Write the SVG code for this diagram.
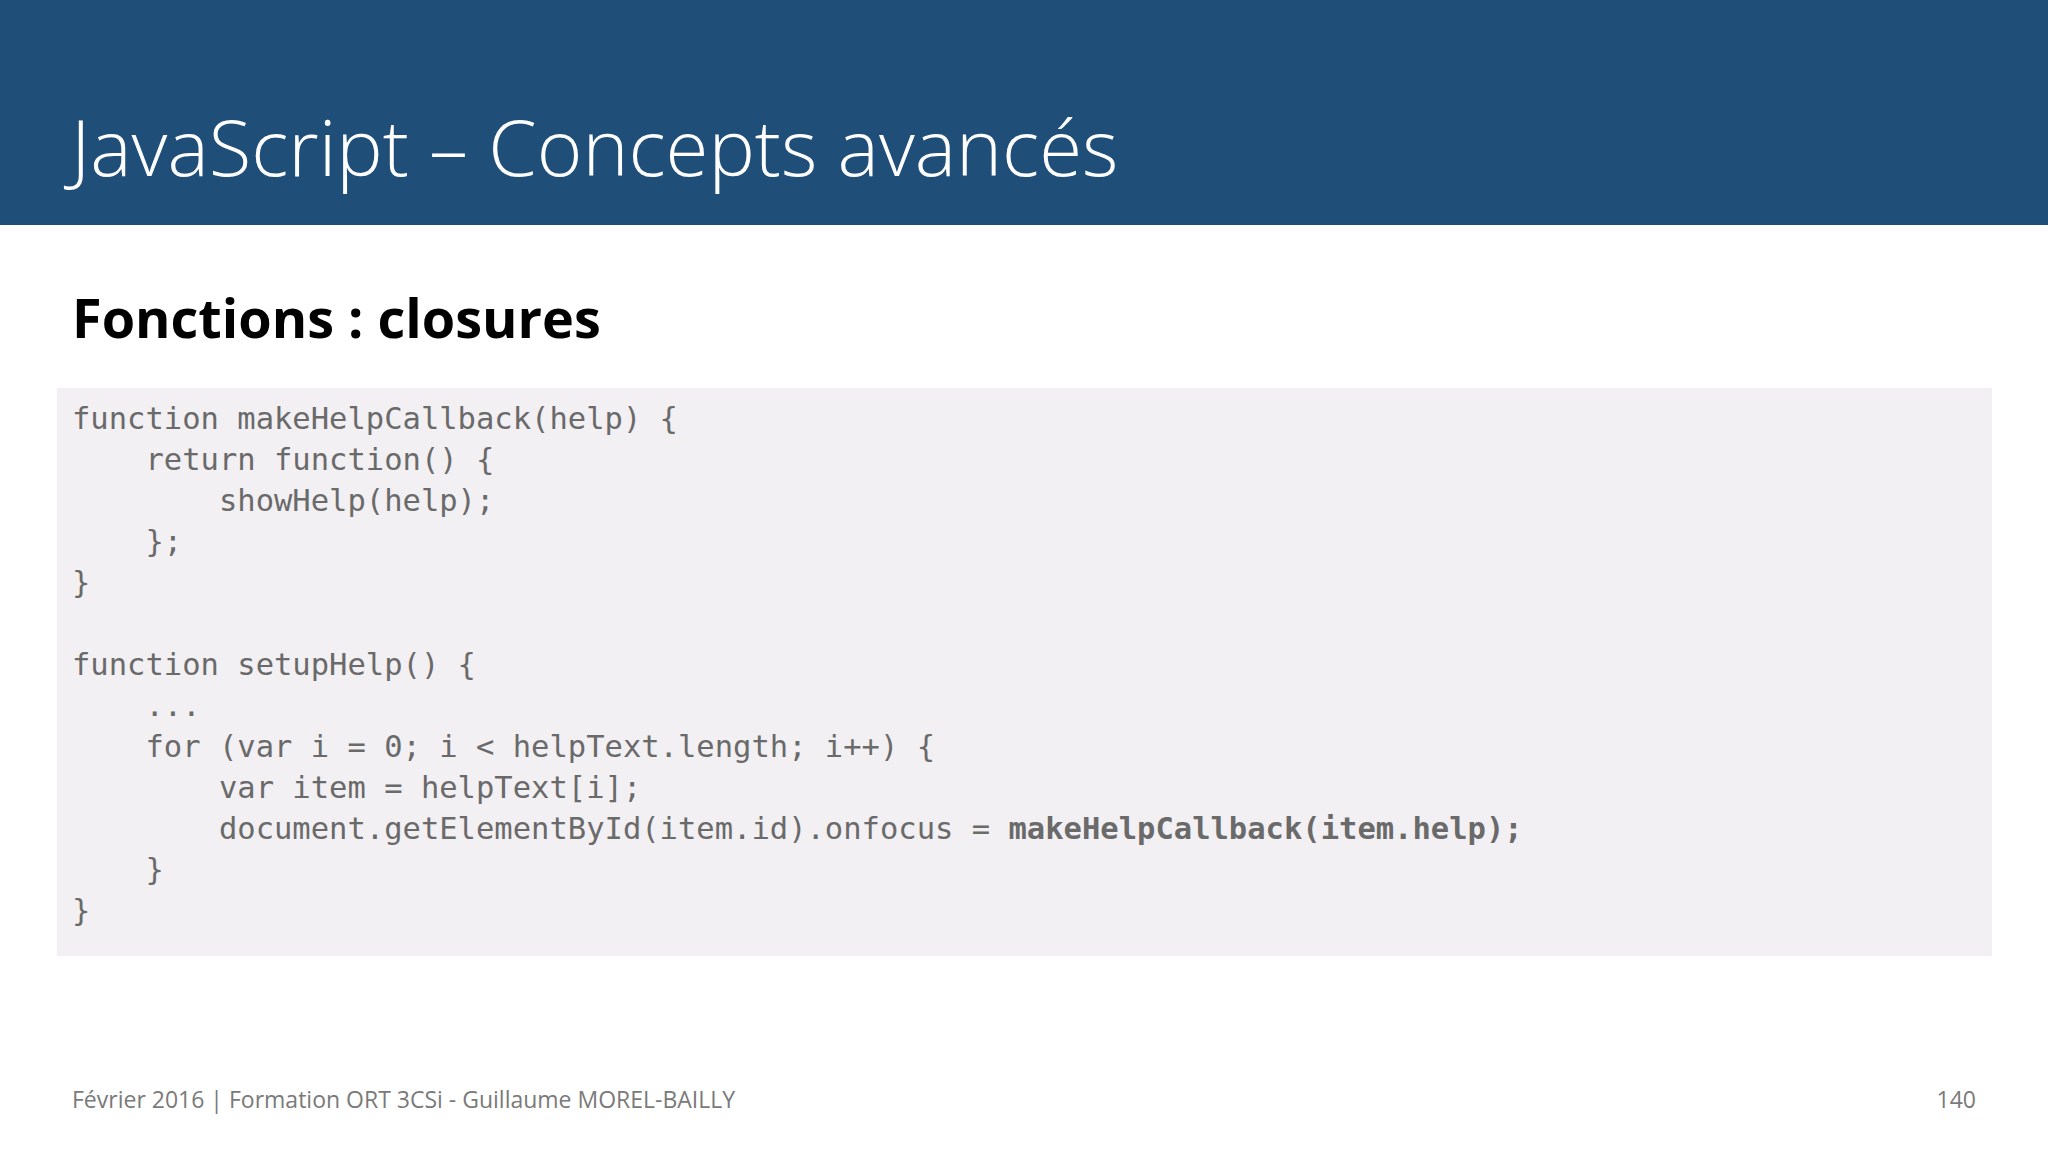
<svg xmlns="http://www.w3.org/2000/svg" width="2048" height="1152" viewBox="0 0 2048 1152">
<style>
.code{font-family:"DejaVu Sans Mono","Liberation Mono",monospace;font-size:30.5px;fill:#6a6a6a;white-space:pre}
.foot{font-family:"Open Sans","Noto Sans",sans-serif;font-size:23px;fill:#7a7a7a}
</style>
<rect width="2048" height="1152" fill="#ffffff"/>
<g id="header">
<rect x="0" y="0" width="2048" height="225" fill="#1f4e79"/>
<text x="71" y="176" font-family="Open Sans,Noto Sans,sans-serif" font-weight="300" font-size="78" fill="#ffffff">JavaScript – Concepts avancés</text>
</g>
<g id="subtitle">
<text x="72" y="338" font-family="Open Sans,Noto Sans,sans-serif" font-weight="bold" font-size="54" fill="#000000">Fonctions : closures</text>
</g>
<g id="code">
<rect x="57" y="388" width="1935" height="568" fill="#f2f0f3"/>
<text class="code" xml:space="preserve">
<tspan x="72" y="429">function makeHelpCallback(help) {</tspan>
<tspan x="72" y="470">    return function() {</tspan>
<tspan x="72" y="511">        showHelp(help);</tspan>
<tspan x="72" y="552">    };</tspan>
<tspan x="72" y="593">}</tspan>
<tspan x="72" y="675">function setupHelp() {</tspan>
<tspan x="72" y="716">    ...</tspan>
<tspan x="72" y="757">    for (var i = 0; i &lt; helpText.length; i++) {</tspan>
<tspan x="72" y="798">        var item = helpText[i];</tspan>
<tspan x="72" y="839">        document.getElementById(item.id).onfocus = <tspan font-weight="bold">makeHelpCallback(item.help);</tspan></tspan>
<tspan x="72" y="880">    }</tspan>
<tspan x="72" y="921">}</tspan>
</text>
</g>
<g id="footer">
<text class="foot" x="72" y="1108">Février 2016   |   Formation ORT 3CSi - Guillaume MOREL-BAILLY</text>
<text class="foot" x="1976" y="1108" text-anchor="end">140</text>
</g>
</svg>
